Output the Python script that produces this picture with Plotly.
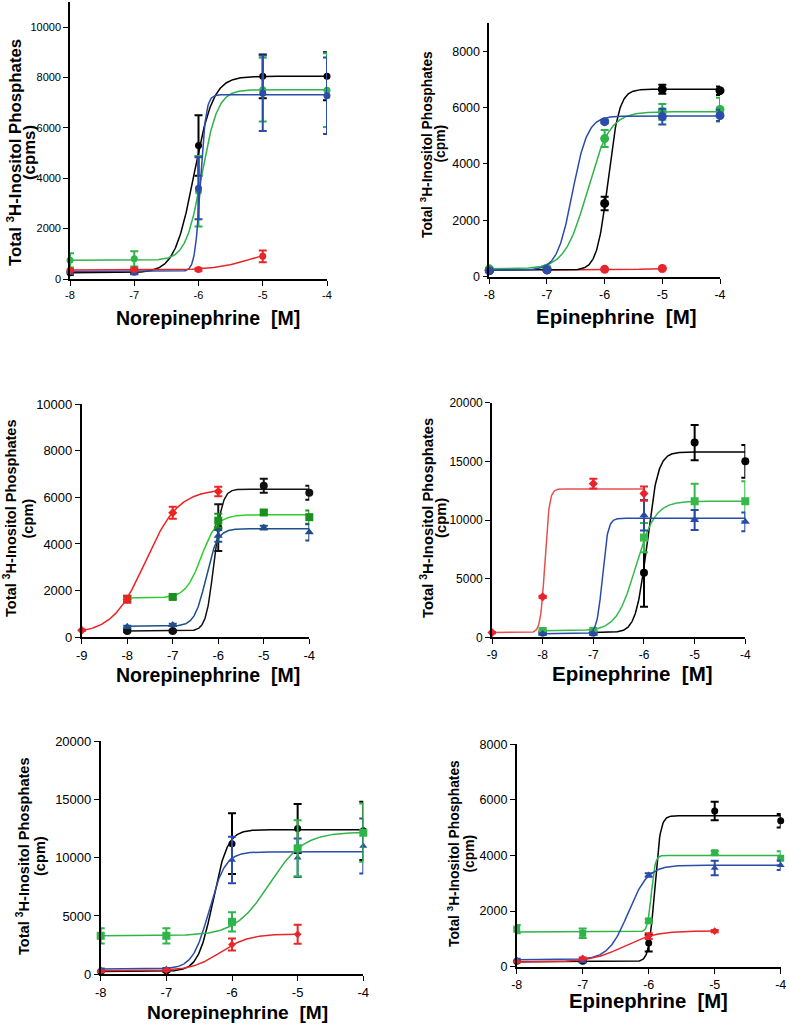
import numpy as np
import plotly.graph_objects as go

W, H = 789, 1026

# ---------------- data ----------------
X5 = [-8, -7, -6, -5, -4]
X4_red = [-8, -7, -6, -5]
X4_red9 = [-9, -8, -7, -6]

# Panel 1: Norepinephrine (cpms)
p1_black = [250, 300, 5300, 8050, 8050];   p1_black_err = [80, 80, 1200, 870, 950]
p1_green = [740, 800, 3480, 7520, 7500];   p1_green_err = [280, 300, 1400, 1270, 1460]
p1_blue = [300, 270, 3600, 7380, 7280];    p1_blue_err = [100, 80, 1230, 1500, 1520]
p1_red = [350, 380, 380, 900];             p1_red_err = [50, 50, 50, 230]

# Panel 2: Epinephrine
p2_black = [220, 250, 2600, 6650, 6600];   p2_black_err = [50, 50, 240, 160, 150]
p2_green = [280, 300, 4900, 5850, 5930];   p2_green_err = [40, 40, 300, 280, 420]
p2_blue = [210, 240, 5500, 5680, 5720];    p2_blue_err = [40, 40, 60, 280, 200]
p2_red = [230, 240, 260, 290];             p2_red_err = [20, 20, 20, 30]

# Panel 3: Norepinephrine
p3_black = [270, 270, 4700, 6500, 6200];   p3_black_err = [40, 40, 1000, 300, 300]
p3_green = [1650, 1730, 5000, 5350, 5150]; p3_green_err = [120, 80, 300, 80, 280]
p3_blue = [450, 530, 4350, 4700, 4500];    p3_blue_err = [50, 50, 250, 80, 350]
p3_red = [300, 1630, 5340, 6250];          p3_red_err = [30, 150, 260, 200]

# Panel 4: Epinephrine
p4_black = [400, 400, 5500, 16600, 15000]; p4_black_err = [100, 100, 2900, 1500, 1400]
p4_green = [540, 550, 8500, 11600, 11600]; p4_green_err = [100, 100, 1250, 1500, 1700]
p4_blue = [300, 300, 10400, 10000, 9850];  p4_blue_err = [50, 50, 1300, 850, 800]
p4_red = [400, 3450, 13100, 12250];        p4_red_err = [50, 100, 420, 600]

# Panel 5: Norepinephrine
p5_black = [250, 300, 11200, 12500, 12300]; p5_black_err = [80, 80, 2600, 2100, 2500]
p5_green = [3300, 3300, 4500, 10800, 12140]; p5_green_err = [650, 650, 830, 2400, 2500]
p5_blue = [400, 450, 9800, 10000, 11000];   p5_blue_err = [100, 100, 2000, 1650, 2350]
p5_red = [250, 350, 2550, 3430];            p5_red_err = [50, 50, 520, 820]

# Panel 6: Epinephrine
p6_black = [200, 200, 850, 5600, 5250];    p6_black_err = [40, 40, 300, 330, 240]
p6_green = [1350, 1200, 1650, 4100, 3900]; p6_green_err = [150, 170, 60, 60, 250]
p6_blue = [250, 200, 3300, 3550, 3650];    p6_blue_err = [40, 40, 60, 260, 170]
p6_red = [180, 300, 1100, 1280];           p6_red_err = [20, 30, 100, 40]

# fitted sigmoid parameters: bottom, top, logEC50, hill slope
p1_fit = {"black": (250, 8050, -6.07, 2.9), "green": (740, 7520, -5.95, 3.5),
          "blue": (300, 7320, -5.97, 10), "red": (360, 1200, -5.2, 1.6)}
p2_fit = {"black": (230, 6650, -5.94, 4.5), "green": (280, 5850, -6.30, 2.25),
          "blue": (230, 5700, -6.56, 3.3), "red": (235, 300, -5.3, 1.5)}
p3_fit = {"black": (270, 6350, -6.09, 5), "green": (1680, 5250, -6.37, 2.5),
          "blue": (470, 4650, -6.27, 3.5), "red": (150, 6350, -7.6, 1.2)}
p4_fit = {"black": (400, 15800, -5.94, 4), "green": (550, 11600, -6.16, 2.3),
          "blue": (300, 10150, -6.82, 8), "red": (400, 12650, -7.955, 10)}
p5_fit = {"black": (250, 12400, -6.29, 3.9), "green": (3300, 12200, -5.43, 1.67),
          "blue": (450, 10500, -6.35, 3.5), "red": (300, 3450, -6.18, 2)}
p6_fit = {"black": (180, 5430, -5.91, 10), "green": (1250, 4000, -5.96, 15),
          "blue": (250, 3650, -6.31, 2.9), "red": (170, 1290, -6.38, 1.8)}

# ---------------- styling ----------------
FONT = "Liberation Sans, Arial, sans-serif"
BLACK = "#000000"; GREEN = "#2fb44a"; BLUE = "#2b4ca8"; RED = "#e6262b"

panels = [
    dict(px=(70, 327), py=(2, 279), xr=(-8, -4), ymax=11000, ystep=2000, ytop_tick=10000,
         tick=11, lab="Norepinephrine  [M]", labc=(208, 318), labsize=19.5,
         ytl=("Total <sup>3</sup>H-Inositol Phosphates", "(cpms)"), ytx=(14, 29), yty=153, ytsize=16.8),
    dict(px=(489.3, 720), py=(23, 276.7), xr=(-8, -4), ymax=9000, ystep=2000, ytop_tick=8000,
         tick=12.5, lab="Epinephrine  [M]", labc=(616, 316), labsize=20.5,
         ytl=("Total <sup>3</sup>H-Inositol Phosphates", "(cpm)"), ytx=(426, 439.5), yty=144, ytsize=13.8),
    dict(px=(81.7, 309.3), py=(404, 637.3), xr=(-9, -4), ymax=10000, ystep=2000, ytop_tick=10000,
         tick=13, lab="Norepinephrine  [M]", labc=(208, 675), labsize=19.5,
         ytl=("Total <sup>3</sup>H-Inositol Phosphates", "(cpm)"), ytx=(10, 27.5), yty=518, ytsize=14.6),
    dict(px=(492, 745.3), py=(402.7, 637.3), xr=(-9, -4), ymax=20000, ystep=5000, ytop_tick=20000,
         tick=12, lab="Epinephrine  [M]", labc=(632, 673), labsize=20.5,
         ytl=("Total <sup>3</sup>H-Inositol Phosphates", "(cpm)"), ytx=(427, 441), yty=518, ytsize=14.8),
    dict(px=(100.7, 363.3), py=(741, 974.3), xr=(-8, -4), ymax=20000, ystep=5000, ytop_tick=20000,
         tick=13, lab="Norepinephrine  [M]", labc=(237, 1012), labsize=19.2,
         ytl=("Total <sup>3</sup>H-Inositol Phosphates", "(cpm)"), ytx=(23, 40), yty=856, ytsize=14.6),
    dict(px=(516.7, 780.7), py=(744.3, 966.7), xr=(-8, -4), ymax=8000, ystep=2000, ytop_tick=8000,
         tick=12.5, lab="Epinephrine  [M]", labc=(648, 1001), labsize=20.3,
         ytl=("Total <sup>3</sup>H-Inositol Phosphates", "(cpm)"), ytx=(453, 468.5), yty=854, ytsize=13.8),
]

series = [
    [("black", X5, p1_black, p1_black_err, "circle", 7, BLACK, BLACK, (-8, -4)),
     ("green", X5, p1_green, p1_green_err, "circle", 7, GREEN, GREEN, (-8, -4)),
     ("blue", X5, p1_blue, p1_blue_err, "circle", 7, BLUE, BLUE, (-8, -4)),
     ("red", X4_red, p1_red, p1_red_err, "circle", 7, RED, RED, (-8, -5))],
    [("red", X4_red, p2_red, p2_red_err, "circle", 9, RED, RED, (-7, -5)),
     ("black", X5, p2_black, p2_black_err, "circle", 9, BLACK, BLACK, (-8, -4)),
     ("green", X5, p2_green, p2_green_err, "circle", 9, GREEN, GREEN, (-8, -4)),
     ("blue", X5, p2_blue, p2_blue_err, "circle", 9, BLUE, BLUE, (-8, -4))],
    [("black", X5, p3_black, p3_black_err, "circle", 8, "#111111", "#111111", (-8, -4)),
     ("green", X5, p3_green, p3_green_err, "square", 8, "#1a901e", "#2ecc2e", (-8, -4)),
     ("blue", X5, p3_blue, p3_blue_err, "triangle-up", 8, "#1d4f8c", "#1d4f8c", (-8, -4)),
     ("red", X4_red9, p3_red, p3_red_err, "diamond", 7, "#ee2222", "#ee2222", (-9, -6))],
    [("black", X5, p4_black, p4_black_err, "circle", 8, BLACK, BLACK, (-7, -4)),
     ("green", X5, p4_green, p4_green_err, "square", 8, "#36b84a", "#36b84a", (-8, -4)),
     ("blue", X5, p4_blue, p4_blue_err, "triangle-up", 8, "#2b4aa8", "#2b4aa8", (-8, -4)),
     ("red", X4_red9, p4_red, p4_red_err, "diamond", 7, "#e8232a", "#e85050", (-9, -6))],
    [("black", X5, p5_black, p5_black_err, "circle", 7, BLACK, BLACK, (-8, -4)),
     ("blue", X5, p5_blue, p5_blue_err, "triangle-up", 7, BLUE, BLUE, (-8, -4)),
     ("green", X5, p5_green, p5_green_err, "square", 8, GREEN, GREEN, (-8, -4)),
     ("red", X4_red, p5_red, p5_red_err, "diamond", 6, RED, RED, (-8, -5))],
    [("black", X5, p6_black, p6_black_err, "circle", 7, BLACK, BLACK, (-8, -4)),
     ("green", X5, p6_green, p6_green_err, "square", 7, GREEN, GREEN, (-8, -4)),
     ("blue", X5, p6_blue, p6_blue_err, "triangle-up", 7, BLUE, BLUE, (-8, -4)),
     ("red", X4_red, p6_red, p6_red_err, "diamond", 6, RED, RED, (-8, -5))],
]
fits = [p1_fit, p2_fit, p3_fit, p4_fit, p5_fit, p6_fit]


def sigmoid(x, bottom, top, logec50, n):
    return bottom + (top - bottom) / (1 + 10 ** ((logec50 - x) * n))


fig = go.Figure()
layout = dict(width=W, height=H, margin=dict(l=0, r=0, t=0, b=0, autoexpand=False),
              paper_bgcolor="white", plot_bgcolor="white", showlegend=False,
              font=dict(family=FONT, color="black"))
annotations = []

for i, (pn, sers, fit) in enumerate(zip(panels, series, fits), start=1):
    xa = "x" if i == 1 else f"x{i}"
    ya = "y" if i == 1 else f"y{i}"
    xkey = "xaxis" if i == 1 else f"xaxis{i}"
    ykey = "yaxis" if i == 1 else f"yaxis{i}"
    x0, x1 = pn["px"]
    yt, yb = pn["py"]
    xticks = list(range(pn["xr"][0], pn["xr"][1] + 1))
    yticks = list(range(0, pn["ytop_tick"] + 1, pn["ystep"]))
    layout[xkey] = dict(domain=[x0 / W, x1 / W], range=list(pn["xr"]), anchor=ya,
                        showline=True, linecolor="black", linewidth=1.6,
                        ticks="outside", ticklen=5, tickwidth=1.4, tickcolor="black",
                        tickvals=xticks, ticktext=[str(v) for v in xticks],
                        tickfont=dict(size=pn["tick"], family=FONT, color="black"),
                        showgrid=False, zeroline=False, automargin=False)
    layout[ykey] = dict(domain=[1 - yb / H, 1 - yt / H], range=[0, pn["ymax"]], anchor=xa,
                        showline=True, linecolor="black", linewidth=1.6,
                        ticks="outside", ticklen=5, tickwidth=1.4, tickcolor="black",
                        tickvals=yticks, ticktext=[str(v) for v in yticks],
                        tickfont=dict(size=pn["tick"], family=FONT, color="black"),
                        showgrid=False, zeroline=False, automargin=False)
    for name, xs, ys, err, sym, msz, mcol, lcol, (cx0, cx1) in sers:
        b, t, ec, n = fit[name]
        xc = np.linspace(cx0, cx1, 400)
        fig.add_trace(go.Scatter(x=xc, y=sigmoid(xc, b, t, ec, n), mode="lines",
                                 line=dict(color=lcol, width=1.5), xaxis=xa, yaxis=ya,
                                 hoverinfo="skip", cliponaxis=False))
        fig.add_trace(go.Scatter(x=xs, y=ys, mode="markers",
                                 marker=dict(symbol=sym, size=msz, color=mcol, line=dict(width=0)),
                                 error_y=dict(type="data", array=err, visible=True, color=mcol,
                                              thickness=2, width=4),
                                 xaxis=xa, yaxis=ya, cliponaxis=False))
    annotations.append(dict(text=f"<b>{pn['lab']}</b>", x=pn["labc"][0] / W, y=1 - pn["labc"][1] / H,
                            xref="paper", yref="paper", xanchor="center", yanchor="middle",
                            showarrow=False, font=dict(size=pn["labsize"], family=FONT, color="black")))
    for txt, lx in zip(pn["ytl"], pn["ytx"]):
        annotations.append(dict(text=f"<b>{txt}</b>", x=lx / W, y=1 - pn["yty"] / H,
                                xref="paper", yref="paper", xanchor="center", yanchor="middle",
                                textangle=-90, showarrow=False,
                                font=dict(size=pn["ytsize"], family=FONT, color="black")))

layout["annotations"] = annotations
fig.update_layout(**layout)
fig.write_html("out.html", config={"displayModeBar": False},
               post_script="document.body.style.margin='0';document.body.style.overflow='hidden';")
